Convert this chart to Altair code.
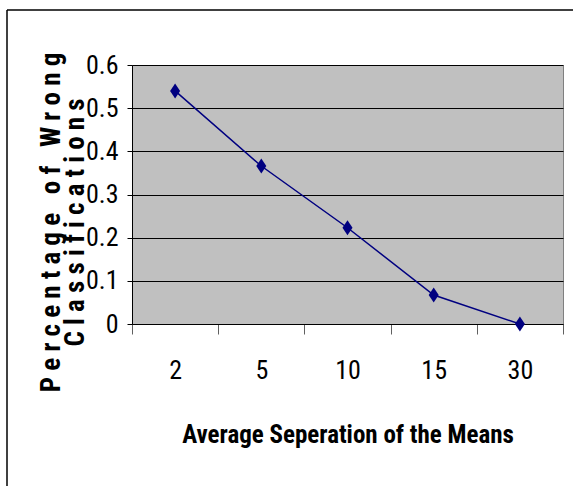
import altair as alt
import pandas as pd

separation = ["2", "5", "10", "15", "30"]
wrong_pct = [0.54, 0.366, 0.223, 0.067, 0.0]
y_ticks = [0, 0.1, 0.2, 0.3, 0.4, 0.5, 0.6]
y_title = [
    "P e r c e n t a g e\u00a0\u00a0\u00a0o f\u00a0\u00a0\u00a0W r o n g",
    "C l a s s i f i c a t i o n s",
]
x_title = "Average Seperation of the Means"

df = pd.DataFrame({"sep": separation, "pct": wrong_pct})

FONT = "Roboto Condensed, Liberation Sans, sans-serif"
NAVY = "#000080"
W, H = 431, 259

x_enc = alt.X(
    "sep:N",
    sort=separation,
    bandPosition=0.5,
    scale=alt.Scale(type="band", paddingInner=0, paddingOuter=0),
    axis=alt.Axis(
        title=x_title,
        labelAngle=0,
        labelFont=FONT,
        labelFontSize=26,
        labelColor="black",
        labelPadding=23,
        tickSize=10,
        tickColor="#606060",
        tickBand="extent",
        domainColor="black",
        grid=False,
        titleFont=FONT,
        titleFontSize=25,
        titleFontWeight="bold",
        titleColor="black",
        titleBaseline="alphabetic",
        titleX=W / 2,
        titleY=118,
    ),
)
y_enc = alt.Y(
    "pct:Q",
    scale=alt.Scale(domain=[0, 0.6], nice=False),
    axis=alt.Axis(
        title=y_title,
        values=y_ticks,
        format=".1~f",
        labelFont=FONT,
        labelFontSize=26,
        labelColor="black",
        labelPadding=9,
        tickSize=5,
        tickColor="black",
        domainColor="black",
        grid=True,
        gridColor="black",
        gridWidth=1,
        titleFont=FONT,
        titleFontSize=27,
        titleFontWeight="bold",
        titleColor="black",
        titleAngle=270,
        titleAlign="center",
        titleBaseline="alphabetic",
        titleLineHeight=24,
        titleX=-73,
        titleY=157,
    ),
)

base = alt.Chart(df)
line = base.mark_line(color=NAVY, strokeWidth=1.5).encode(x=x_enc, y=y_enc)
points = base.mark_point(
    shape="M0,-1L0.67,0L0,1L-0.67,0Z", filled=True, size=225, color=NAVY, opacity=1
).encode(x=x_enc, y=y_enc)

frame_df = pd.DataFrame({"k": [0]})
top_rule = alt.Chart(frame_df).mark_rule(color="black", strokeWidth=1.5).encode(
    x=alt.value(-125), x2=alt.value(441), y=alt.value(-55)
)
left_rule = alt.Chart(frame_df).mark_rule(color="black", strokeWidth=1.5).encode(
    x=alt.value(-125), y=alt.value(-55), y2=alt.value(421)
)

chart = (
    alt.layer(line, points, top_rule, left_rule)
    .properties(
        width=W,
        height=H,
        autosize=alt.AutoSizeParams(type="none"),
        padding={"left": 132, "top": 65, "right": 10, "bottom": 162},
        background="white",
    )
    .configure_view(fill="#C0C0C0", stroke="#808080", strokeWidth=1)
)

chart.save("out.html", embed_options={"renderer": "svg", "actions": False})
